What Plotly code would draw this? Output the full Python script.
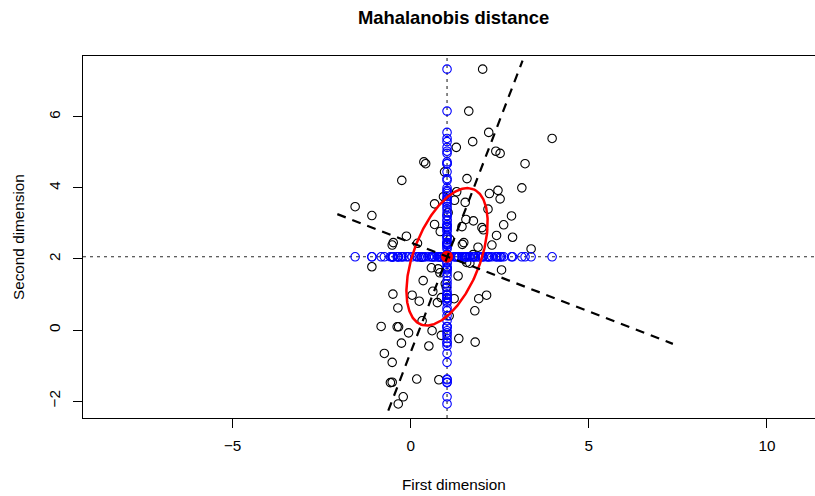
import numpy as np
import plotly.graph_objects as go

# ---- data ----
pts_x = [2.02, 1.63, 2.19, 1.74, 1.28, 2.39, 2.51, 3.97, 0.37, 0.42, 3.21, -0.25, 1.58, 3.12,
         2.45, 2.21, 2.51, 1.29, 1.23, 0.67, 1.53, 2.17, -1.56, -1.09, 2.83, 2.61, 1.55, 1.76,
         0.67, 0.83, 1.44, 2.00, 2.04, -0.12, 2.41, 2.86, -0.49, -0.52, 0.19, 1.49, 1.45, 1.89,
         2.28, 3.38, -1.09, 0.58, 0.77, 0.82, 1.57, 1.66, 2.55, 0.35, 1.33, 0.62, -0.50, 0.04,
         0.24, 0.75, 0.86, 1.22, 1.91, 2.13, -0.36, 1.80, -0.83, -0.38, -0.34, 0.32, -0.06, 0.60,
         0.86, 1.35, 1.81, -0.26, 0.51, -0.74, -0.52, 0.17, 0.79, -0.57, -0.52, -0.21, -0.35,
         1.05, 0.97, 1.08, 0.95, 1.10, 0.30, 1.75, 1.00, 0.92]
pts_y = [7.34, 6.16, 5.56, 5.30, 5.14, 5.03, 4.97, 5.39, 4.73, 4.68, 4.68, 4.21, 4.26, 4.00,
         3.93, 3.84, 3.69, 3.89, 3.65, 3.55, 3.59, 3.40, 3.47, 3.22, 3.21, 2.96, 3.11, 3.07,
         2.97, 2.77, 2.91, 2.88, 2.82, 2.64, 2.66, 2.61, 2.46, 2.39, 2.44, 2.46, 2.41, 2.33,
         2.39, 2.28, 1.78, 1.75, 1.72, 1.61, 1.90, 1.88, 1.69, 1.39, 1.52, 1.09, 1.01, 0.98,
         0.81, 0.77, 0.91, 0.88, 0.88, 0.98, 0.62, 0.54, 0.10, 0.09, 0.09, 0.26, -0.08, -0.02,
         -0.15, -0.24, -0.34, -0.37, -0.45, -0.66, -0.91, -1.38, -1.40, -1.48, -1.47, -1.88, -2.08,
         3.30, 1.30, 0.40, 4.45, 2.55, 2.05, 2.12, 1.20, 3.75]

center = [1.02, 2.06]
ellipse_axes = [2.04, 0.935]      # semi-major, semi-minor
ellipse_angle_deg = 68.9

axis1_x = [-0.63, 3.14]
axis1_y = [-2.27, 7.58]
axis2_x = [-2.06, 7.36]
axis2_y = [3.26, -0.39]

x_ticks = [-5, 0, 5, 10]
y_ticks = [-2, 0, 2, 4, 6]

# ---- layout geometry ----
W, H = 815, 496
L, R, T, B = 83, 815, 56, 418
x_range = [-9.20, 11.35]
y_range = [-2.476, 7.71]
FONT = "Liberation Sans, Arial, Helvetica, sans-serif"
FS = 15.3

fig = go.Figure()

# dotted reference lines through the mean
fig.add_trace(go.Scatter(x=[center[0], center[0]], y=[y_range[0], y_range[1]], mode="lines",
                         line=dict(color="#2a2a2a", width=1.1, dash="3px,4px"),
                         hoverinfo="skip", showlegend=False))
fig.add_trace(go.Scatter(x=[x_range[0], x_range[1]], y=[center[1], center[1]], mode="lines",
                         line=dict(color="#2a2a2a", width=1.1, dash="3px,4px"),
                         hoverinfo="skip", showlegend=False))

# data points
fig.add_trace(go.Scatter(x=pts_x, y=pts_y, mode="markers",
                         marker=dict(symbol="circle-open", size=8.5, color="black",
                                     line=dict(width=1.1, color="black")),
                         showlegend=False))

# projections (blue)
fig.add_trace(go.Scatter(x=[center[0]] * len(pts_y), y=pts_y, mode="markers",
                         marker=dict(symbol="circle-open", size=8.5, color="blue",
                                     line=dict(width=1.1, color="blue")),
                         showlegend=False))
fig.add_trace(go.Scatter(x=pts_x, y=[center[1]] * len(pts_x), mode="markers",
                         marker=dict(symbol="circle-open", size=8.5, color="blue",
                                     line=dict(width=1.1, color="blue")),
                         showlegend=False))

# center
fig.add_trace(go.Scatter(x=[center[0]], y=[center[1]], mode="markers",
                         marker=dict(symbol="circle", size=12, color="red"),
                         showlegend=False))

# ellipse
t = np.linspace(0, 2 * np.pi, 300)
th = np.deg2rad(ellipse_angle_deg)
a, b = ellipse_axes
ex = center[0] + a * np.cos(t) * np.cos(th) - b * np.sin(t) * np.sin(th)
ey = center[1] + a * np.cos(t) * np.sin(th) + b * np.sin(t) * np.cos(th)
fig.add_trace(go.Scatter(x=ex, y=ey, mode="lines", line=dict(color="red", width=2.5),
                         hoverinfo="skip", showlegend=False))

# principal axes
for xs, ys in [(axis1_x, axis1_y), (axis2_x, axis2_y)]:
    fig.add_trace(go.Scatter(x=xs, y=ys, mode="lines",
                             line=dict(color="black", width=2.2, dash="9px,7px"),
                             hoverinfo="skip", showlegend=False))

pw, ph = R - L, B - T
fig.update_layout(
    width=W, height=H,
    margin=dict(l=L, r=W - R, t=T, b=H - B, pad=0),
    paper_bgcolor="white", plot_bgcolor="white",
    font=dict(family=FONT, size=FS, color="black"),
    xaxis=dict(range=x_range, tickvals=x_ticks, ticks="outside", ticklen=9, tickwidth=1,
               tickcolor="black", showline=True, linecolor="black", linewidth=1, mirror=True,
               showgrid=False, zeroline=False, ticklabelstandoff=5,
               tickfont=dict(family=FONT, size=FS)),
    yaxis=dict(range=y_range, tickvals=y_ticks, ticks="outside", ticklen=9, tickwidth=1,
               tickcolor="black", showline=True, linecolor="black", linewidth=1,
               showgrid=False, zeroline=False, tickangle=-90, ticklabelstandoff=7,
               tickfont=dict(family=FONT, size=FS)),
    annotations=[
        dict(text="<b>Mahalanobis distance</b>", xref="paper", yref="paper",
             x=(453 - L) / pw, y=1 + (T - 17) / ph, xanchor="center", yanchor="middle",
             showarrow=False, font=dict(family=FONT, size=18.4, color="black")),
        dict(text="First dimension", xref="paper", yref="paper",
             x=(453.5 - L) / pw, y=-(484 - B) / ph, xanchor="center", yanchor="middle",
             showarrow=False, font=dict(family=FONT, size=FS, color="black")),
        dict(text="Second dimension", xref="paper", yref="paper",
             x=-(L - 18) / pw, y=0.5, xanchor="center", yanchor="middle", textangle=-90,
             showarrow=False, font=dict(family=FONT, size=FS, color="black")),
    ],
)

fig.write_html("out.html")
